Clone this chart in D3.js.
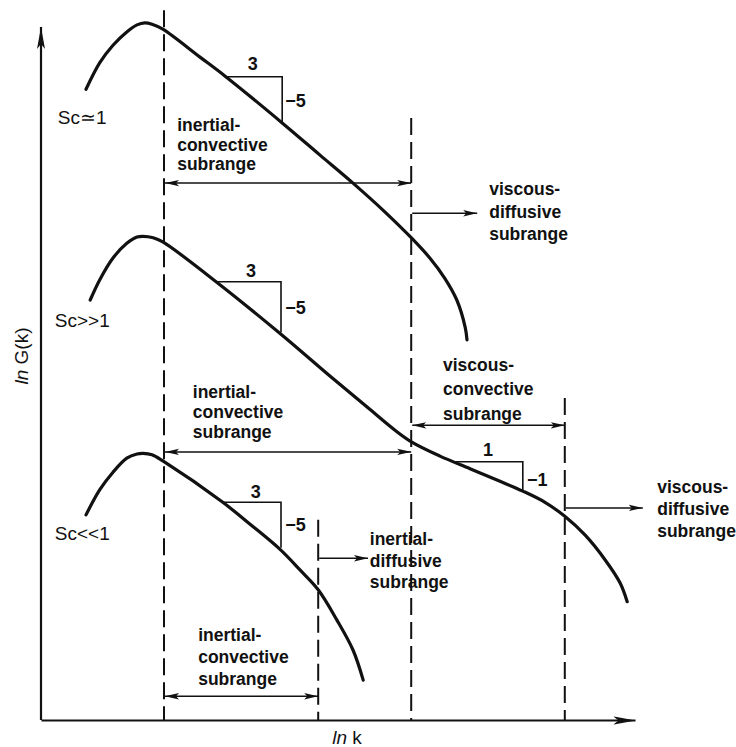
<!DOCTYPE html>
<html><head><meta charset="utf-8">
<script src="https://cdn.jsdelivr.net/npm/d3@7"></script>
<style>
body{margin:0;background:#fff;}
svg{display:block;}
.lab{font-family:"Liberation Sans",Arial,sans-serif;font-weight:bold;font-size:17.5px;fill:#111;}
.sc{font-family:"Liberation Sans",Arial,sans-serif;font-size:19px;fill:#111;}
.num{font-family:"Liberation Sans",Arial,sans-serif;font-weight:bold;font-size:18px;fill:#111;}
.ax{font-family:"Liberation Sans",Arial,sans-serif;font-size:19px;fill:#111;}
</style></head><body>
<script>
// ---- data (arbitrary ln k / ln G(k) units) ----
const curveSc1 = [[7.5,90.1],[9.8,93.9],[12.0,96.4],[14.3,98.3],[16.0,99.3],[17.3,99.6],[18.5,99.4],[20.3,98.7],[26.5,94.7],[30.8,91.9],[40.2,85.3],[46.5,80.7],[52.0,76.7],[57.3,72.6],[61.7,68.9],[64.8,66.0],[67.3,63.1],[69.3,60.0],[70.7,56.1],[71.0,54.3]];
const curveScHigh = [[8.2,60.0],[9.8,62.9],[12.0,66.0],[14.3,68.1],[16.0,69.0],[17.0,69.1],[18.7,68.9],[20.3,68.3],[29.5,62.4],[40.0,55.1],[48.2,49.1],[54.5,44.6],[59.0,41.4],[61.8,39.7],[66.5,37.7],[71.5,35.9],[76.5,34.1],[80.3,32.7],[84.0,31.1],[87.3,29.1],[90.7,26.4],[94.0,22.9],[96.5,19.6],[97.7,16.9]];
const curveScLow = [[7.5,29.3],[9.8,32.9],[12.0,35.4],[14.3,37.4],[16.0,38.0],[17.0,38.1],[18.5,37.9],[20.5,36.9],[30.3,31.1],[34.8,28.0],[39.8,24.4],[43.2,21.4],[46.2,18.6],[49.3,14.3],[52.0,10.0],[53.7,5.7]];
const curveNames = ["Sc\u22431","Sc>>1","Sc<<1"];
const nameAnchors = [[2.8,85.1],[2.3,56.1],[2.3,25.7]];

// dashed boundaries: [ln k, top ln G]
const boundaries = [[20.5,101.4],[61.7,86.0],[87.3,46.0],[46.2,28.6]];

// subrange arrows: [x0, x1, y, double?]
const arrows = [
  [20.5,61.7,76.7,true],
  [61.7,72.7,72.4,false],
  [20.5,61.7,38.3,true],
  [61.7,87.3,42.1,true],
  [87.3,100.3,30.3,false],
  [46.2,54.5,23.1,false],
  [20.5,46.2,3.4,true]
];
// subrange labels: [x, first baseline y, line spacing px, lines]
const rangeLabels = [
  [22.7,84.1,19.5,["inertial-","convective","subrange"]],
  [74.7,75.0,22.5,["viscous-","diffusive","subrange"]],
  [25.3,46.0,20,["inertial-","convective","subrange"]],
  [67.0,49.9,24.5,["viscous-","convective","subrange"]],
  [102.7,32.4,22,["viscous-","diffusive","subrange"]],
  [54.8,25.0,21.5,["inertial-","diffusive","subrange"]],
  [26.2,11.3,22,["inertial-","convective","subrange"]]
];
// slope triangles: [xLeft, xRight, yTop, yBottom]
const slopeTris = [[30.8,40.2,91.9,85.3],[29.5,40.0,62.6,55.4],[30.5,40.0,31.1,24.6],[68.7,80.3,36.9,32.7]];
// slope labels: [run text, x, y, rise text, x, y]
const slopeLabels = [
  ["3",35.3,92.9,"\u22125",40.7,87.6],
  ["3",35.0,63.3,"\u22125",40.7,58.0],
  ["3",35.8,31.7,"\u22125",40.7,27.0],
  ["1",74.5,37.7,"\u22121",81.0,33.4]
];

// ---- layout ----
const W=736,H=747;
const x=d3.scaleLinear().domain([0,99]).range([41,635]);
const y=d3.scaleLinear().domain([0,99]).range([720,27]);
const svg=d3.select("body").append("svg").attr("width",W).attr("height",H);
const defs=svg.append("defs");
defs.append("marker").attr("id","ah").attr("viewBox","0 0 14 8").attr("refX",14).attr("refY",4)
  .attr("markerWidth",14).attr("markerHeight",8).attr("markerUnits","userSpaceOnUse")
  .attr("orient","auto-start-reverse")
  .append("path").attr("d","M0,0.8L14,4L0,7.2L3,4Z").attr("fill","#111");
defs.append("marker").attr("id","axh").attr("viewBox","0 0 22 10").attr("refX",22).attr("refY",5)
  .attr("markerWidth",22).attr("markerHeight",10).attr("markerUnits","userSpaceOnUse")
  .attr("orient","auto")
  .append("path").attr("d","M0,1L22,5L0,9L5,5Z").attr("fill","#111");

// axes
const xAx=svg.append("g").attr("transform",`translate(0,${y(0)})`)
  .call(d3.axisBottom(x).tickValues([]).tickSizeOuter(0));
xAx.select(".domain").attr("stroke","#111").attr("stroke-width",2.2).attr("marker-end","url(#axh)");
const yAx=svg.append("g").attr("transform",`translate(${x(0)},0)`)
  .call(d3.axisLeft(y).tickValues([]).tickSizeOuter(0));
yAx.select(".domain").attr("stroke","#111").attr("stroke-width",2.2)
  .attr("d",`M0,${y(0)}V${y(99)}`).attr("marker-end","url(#axh)");

// dashed boundaries
svg.append("g").selectAll("line").data(boundaries).join("line")
  .attr("x1",d=>x(d[0])).attr("x2",d=>x(d[0])).attr("y1",d=>y(d[1])).attr("y2",y(0))
  .attr("stroke","#111").attr("stroke-width",2).attr("stroke-dasharray","17,7");

// curves
const line=d3.line().x(d=>x(d[0])).y(d=>y(d[1])).curve(d3.curveCatmullRom.alpha(0.5));
svg.append("g").selectAll("path").data([curveSc1,curveScHigh,curveScLow]).join("path")
  .attr("d",line).attr("fill","none").attr("stroke","#111").attr("stroke-width",3.2)
  .attr("stroke-linecap","round");

// curve names
svg.append("g").selectAll("text").data(curveNames).join("text").attr("class","sc")
  .attr("x",(d,i)=>x(nameAnchors[i][0])).attr("y",(d,i)=>y(nameAnchors[i][1])).text(d=>d);

// slope triangles
svg.append("g").selectAll("path").data(slopeTris).join("path")
  .attr("d",d=>`M${x(d[0])},${y(d[2])}H${x(d[1])}V${y(d[3])}`)
  .attr("fill","none").attr("stroke","#111").attr("stroke-width",1.6);
const sl=svg.append("g");
slopeLabels.forEach(d=>{
  sl.append("text").attr("class","num").attr("text-anchor","middle").attr("x",x(d[1])).attr("y",y(d[2])).text(d[0]);
  sl.append("text").attr("class","num").attr("x",x(d[4])).attr("y",y(d[5])).text(d[3]);
});

// arrows
svg.append("g").selectAll("line").data(arrows).join("line")
  .attr("x1",d=>x(d[0])+1).attr("x2",d=>x(d[1])).attr("y1",d=>y(d[2])).attr("y2",d=>y(d[2]))
  .attr("stroke","#111").attr("stroke-width",1.5)
  .attr("marker-end","url(#ah)").attr("marker-start",d=>d[3]?"url(#ah)":null);

// range labels
const rl=svg.append("g");
rangeLabels.forEach(d=>{
  const t=rl.append("text").attr("class","lab");
  d[3].forEach((s,i)=>t.append("tspan").attr("x",x(d[0])).attr("y",y(d[1])+i*d[2]).text(s));
});

// axis titles
const yt=svg.append("text").attr("class","ax").attr("text-anchor","middle")
  .attr("transform",`translate(${x(0)-13},${y(52)}) rotate(-90)`);
yt.append("tspan").attr("font-style","italic").text("ln");
yt.append("tspan").text(" G(k)");
const xt=svg.append("text").attr("class","ax").attr("text-anchor","middle")
  .attr("x",x(51)).attr("y",y(0)+24);
xt.append("tspan").attr("font-style","italic").text("ln");
xt.append("tspan").text(" k");
</script>
</body></html>
